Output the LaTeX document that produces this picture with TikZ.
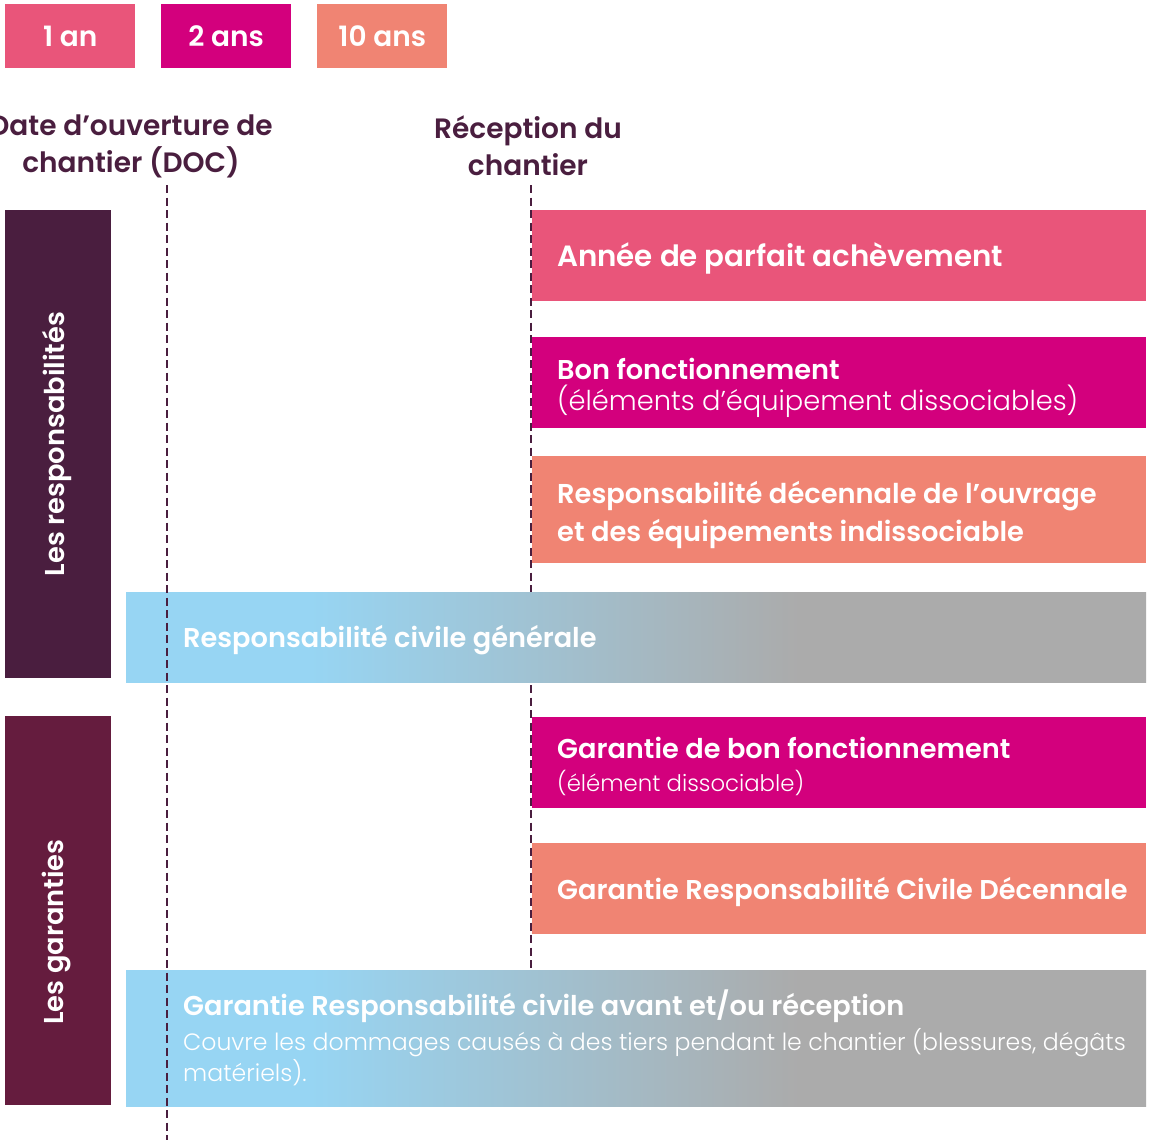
\documentclass[tikz,border=0pt]{standalone}
\usepackage{fontspec}
\setmainfont{Poppins}[BoldFont={Poppins SemiBold}, WordSpace={1,0,0}]
\newfontfamily\lightfont{Poppins Light}[WordSpace={1,0,0}]
\usetikzlibrary{positioning}

\definecolor{rose}{HTML}{E9557A}
\definecolor{magenta}{HTML}{D3007D}
\definecolor{saumon}{HTML}{F08473}
\definecolor{prune}{HTML}{4A1E3F}
\definecolor{bordeaux}{HTML}{651C3E}
\definecolor{ciel}{HTML}{97D5F3}
\definecolor{gris}{HTML}{ABABAB}

% Sky blue on the left, fading to grey; the path spans 25bp..75bp
\pgfdeclarehorizontalshading{cielgris}{100bp}{%
  color(0bp)=(ciel); color(34bp)=(ciel); color(58bp)=(gris); color(100bp)=(gris)}

% word spaces follow the font in use, not the node's font
\newcommand{\natspace}{\spaceskip=0pt\xspaceskip=0pt\relax}

\tikzset{
  legend/.style={fill=#1, text=white, font=\bfseries\fontsize{28}{30}\selectfont,
    minimum width=130pt, minimum height=64pt, anchor=north west, inner sep=0pt},
  header/.style={text=prune, font=\bfseries\fontsize{28}{37}\selectfont, align=center},
  sidebar/.style={fill=#1, minimum width=106pt, anchor=north west, inner sep=0pt},
  sidelabel/.style={text=white, font=\bfseries\fontsize{27.3}{30}\selectfont, rotate=90},
  period/.style={fill=#1, anchor=north west, minimum width=614pt, inner sep=0pt},
  band/.style={shading=cielgris, anchor=north west, minimum width=1020pt, inner sep=0pt},
  label/.style={text=white, anchor=west, inner sep=0pt, align=left},
  milestone/.style={draw=prune, line width=2.4pt, dash pattern=on 8pt off 4.5pt},
}

\newcommand{\bolder}[1]{{\natspace\bfseries\fontsize{27.2}{31}\selectfont #1}}
\newcommand{\thin}[2]{{\natspace\lightfont\fontsize{#1}{#1}\selectfont #2}}

\begin{document}
\begin{tikzpicture}[x=1pt, y=-1pt]
\useasboundingbox (0,0) rectangle (1151,1145);
\fill[white] (0,0) rectangle (1151,1145);

% Legend
\node[legend=rose]    (l1)  at (5,4)   {1 an};
\node[legend=magenta] (l2)  at (161,4) {2 ans};
\node[legend=saumon]  (l10) at (317,4) {10 ans};

% Milestones
\node[header] (doc) at (131,146) {\natspace Date d’ouverture de\\chantier (DOC)};
\node[header] (rec) at (528,146) {\natspace Réception du\\chantier};
\coordinate (docTop) at (167,185);
\coordinate (docEnd) at (167,1140);
\coordinate (recTop) at (531,185);
\coordinate (recEnd) at (531,970);
\draw[milestone] (recTop) -- (recEnd);

% Side bars
\node[sidebar=prune, minimum height=468pt]    (resp) at (5,210) {};
\node[sidelabel] (respLbl) at (57,444) {Les responsabilités};
\node[sidebar=bordeaux, minimum height=389pt] (gar)  at (5,716) {};
\node[sidelabel] (garLbl) at (57,932) {Les garanties};

% Responsabilités
\node[period=rose, minimum height=91pt] (apa) at (532,210) {};
\node[label] (apaLbl) at ([xshift=25pt, yshift=-3pt]apa.west)
  {\natspace\bfseries\fontsize{29.3}{32}\selectfont Année de parfait achèvement};

\node[period=magenta, minimum height=91pt] (bf) at (532,337) {};
\node[label, font=\fontsize{27.3}{31}\selectfont] (bfLbl) at ([xshift=25pt, yshift=-5pt]bf.west)
  {\bolder{Bon fonctionnement}\\\thin{27.3}{(éléments d’équipement dissociables)}};

\node[period=saumon, minimum height=107pt] (dec) at (532,456) {};
\node[label, font=\bfseries\fontsize{27.3}{38}\selectfont] (decLbl) at ([xshift=25pt, yshift=-5pt]dec.west)
  {\natspace Responsabilité décennale de l’ouvrage\\et des équipements indissociable};

% Responsabilité civile générale
\node[band, minimum height=90pt] (rcg) at (126,592) {};
\node[label] (rcgLbl) at ([xshift=57pt, yshift=-3pt]rcg.west)
  {\bolder{Responsabilité civile générale}};

% Garanties
\node[period=magenta, minimum height=91pt] (gbf) at (532,717) {};
\node[label, font=\fontsize{22.8}{33}\selectfont] (gbfLbl) at ([xshift=25pt, yshift=-4pt]gbf.west)
  {\bolder{Garantie de bon fonctionnement}\\\thin{22.8}{(élément dissociable)}};

\node[period=saumon, minimum height=91pt] (grcd) at (532,843) {};
\node[label] (grcdLbl) at ([xshift=25pt, yshift=-3pt]grcd.west)
  {\bolder{Garantie Responsabilité Civile Décennale}};

% Responsabilité civile avant et/ou réception
\node[band, minimum height=136pt] (grca) at (126,970) {};
\node[label, font=\lightfont\fontsize{23.6}{31}\selectfont] (grcaLbl) at ([xshift=57pt]grca.west)
  {\natspace\bolder{Garantie Responsabilité civile avant et/ou réception}\\[4pt]
   Couvre les dommages causés à des tiers pendant le chantier (blessures, dégâts\\matériels).};

\draw[milestone] (docTop) -- (docEnd);
\end{tikzpicture}
\end{document}
